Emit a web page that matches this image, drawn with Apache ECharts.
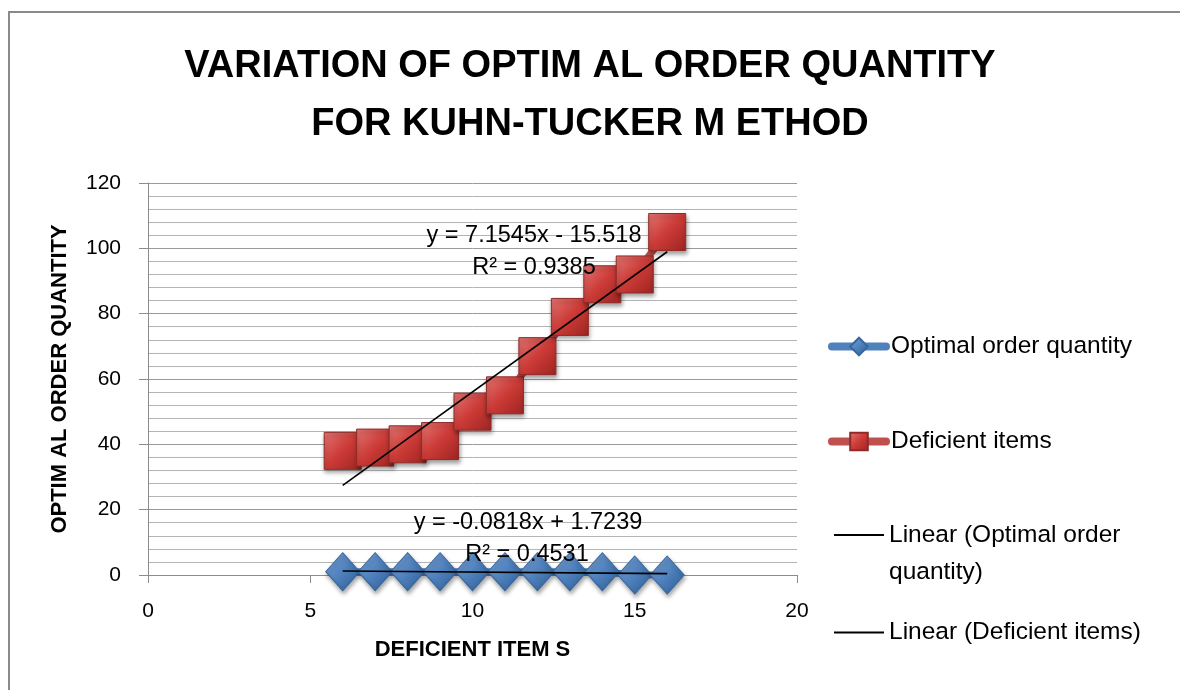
<!DOCTYPE html>
<html>
<head>
<meta charset="utf-8">
<title>Variation of optimal order quantity</title>
<script src="https://cdn.jsdelivr.net/npm/echarts@6/dist/echarts.min.js"></script>
<style>
  html, body { margin: 0; padding: 0; background: #fff; }
  #chart { width: 1180px; height: 690px; }
</style>
</head>
<body>
<div id="chart"></div>
<script>
const FONT = "'Liberation Sans', Arial, sans-serif";

// data
const deficientItems = [6, 7, 8, 9, 10, 11, 12, 13, 14, 15, 16];
const optimalQty = [1, 1, 1, 1, 1, 1, 1, 1, 1, 0, 0];
const deficientQty = [38, 39, 40, 41, 50, 55, 67, 79, 89, 92, 105];

const seriesNames = [
  "Optimal order quantity",
  "Deficient items",
  "Linear (Optimal order quantity)",
  "Linear (Deficient items)",
];

// trendline labels as printed on the chart
const eqOptimal = ["y = -0.0818x + 1.7239", "R² = 0.4531"];
const eqDeficient = ["y = 7.1545x - 15.518", "R² = 0.9385"];

function linFit(xs, ys) {
  const n = xs.length;
  const mx = xs.reduce((a, b) => a + b, 0) / n;
  const my = ys.reduce((a, b) => a + b, 0) / n;
  let sxy = 0, sxx = 0;
  for (let i = 0; i < n; i++) {
    sxy += (xs[i] - mx) * (ys[i] - my);
    sxx += (xs[i] - mx) * (xs[i] - mx);
  }
  const slope = sxy / sxx;
  return { slope, intercept: my - slope * mx };
}

function trendPoints(xs, ys) {
  const f = linFit(xs, ys);
  const x0 = Math.min(...xs), x1 = Math.max(...xs);
  return [[x0, f.intercept + f.slope * x0], [x1, f.intercept + f.slope * x1]];
}

const pairs = (xs, ys) => xs.map((x, i) => [x, ys[i]]);

const chart = echarts.init(document.getElementById("chart"));

const legendBase = {
  orient: "vertical",
  left: 828,
  padding: 0,
  itemWidth: 54,
  itemHeight: 22,
  selectedMode: false,
  textStyle: { fontFamily: FONT, fontSize: 24.5, lineHeight: 37, color: "#000" },
  lineStyle: { width: 8, cap: "round" },
};

const eqText = (txt, x, y) => ({
  type: "text",
  x, y, z: 100,
  style: {
    text: txt, font: "23.5px " + FONT, fill: "#000",
    align: "center", verticalAlign: "middle",
  },
});

chart.setOption({
  animation: false,
  backgroundColor: "#fff",
  textStyle: { fontFamily: FONT },
  title: {
    text: "VARIATION OF OPTIM AL ORDER QUANTITY\nFOR KUHN-TUCKER M ETHOD",
    left: "center",
    top: 33,
    textStyle: { fontFamily: FONT, fontSize: 38, fontWeight: "bold", lineHeight: 58, color: "#000" },
  },
  grid: { left: 148, right: 383, top: 183, bottom: 115 },
  xAxis: {
    type: "value",
    min: 0, max: 20, interval: 5,
    name: "DEFICIENT ITEM S",
    nameLocation: "middle",
    nameGap: 64,
    nameTextStyle: { fontFamily: FONT, fontSize: 22, fontWeight: "bold", color: "#000" },
    axisLine: { onZero: false, lineStyle: { color: "#8c8c8c", width: 1 } },
    axisTick: { show: true, length: 8, lineStyle: { color: "#8c8c8c" } },
    axisLabel: { fontSize: 21, color: "#000", margin: 26 },
    splitLine: { show: false },
  },
  yAxis: {
    type: "value",
    min: 0, max: 120, interval: 20,
    name: "OPTIM AL ORDER QUANTITY",
    nameLocation: "middle",
    nameGap: 77,
    nameTextStyle: { fontFamily: FONT, fontSize: 22, fontWeight: "bold", color: "#000" },
    axisLine: { show: true, lineStyle: { color: "#8c8c8c", width: 1 } },
    axisTick: { show: true, length: 9, lineStyle: { color: "#8c8c8c" } },
    axisLabel: { fontSize: 21, color: "#000", margin: 27 },
    splitLine: { show: true, lineStyle: { color: "#9a9a9a", width: 1 } },
    minorTick: { show: false, splitNumber: 5 },
    minorSplitLine: { show: true, lineStyle: { color: "#b4b4b4", width: 1 } },
  },
  legend: [
    { ...legendBase, top: 328, data: [seriesNames[0]] },
    { ...legendBase, top: 423, data: [seriesNames[1]] },
    {
      ...legendBase, top: 479.5, left: 834, itemWidth: 50, itemHeight: 2,
      data: [{ name: seriesNames[2], icon: "rect" }],
      formatter: () => "\nLinear (Optimal order\nquantity)",
    },
    {
      ...legendBase, top: 614, left: 834, itemWidth: 50, itemHeight: 2,
      data: [{ name: seriesNames[3], icon: "rect" }],
    },
  ],
  graphic: [
    {
      type: "rect", z: 0, silent: true,
      shape: { x: 9, y: 12, width: 1200, height: 700 },
      style: { fill: "none", stroke: "#8a8a8a", lineWidth: 2 },
    },
    eqText(eqDeficient[0], 534, 236),
    eqText(eqDeficient[1], 534, 268),
    eqText(eqOptimal[0], 528, 523),
    eqText(eqOptimal[1], 527, 555),
  ],
  series: [
    {
      name: seriesNames[0],
      type: "line",
      data: pairs(deficientItems, optimalQty),
      symbol: "diamond",
      symbolSize: [34, 38],
      lineStyle: { color: "#4f81bd", width: 7 },
      itemStyle: {
        color: new echarts.graphic.LinearGradient(0, 0, 1, 1, [
          { offset: 0, color: "#7ea6d8" },
          { offset: 0.5, color: "#4f81bd" },
          { offset: 1, color: "#2c5b92" },
        ]),
        borderColor: "#36679e",
        borderWidth: 1,
        shadowColor: "rgba(0,0,0,0.35)",
        shadowBlur: 4,
        shadowOffsetX: 1,
        shadowOffsetY: 3,
      },
      emphasis: { disabled: true },
    },
    {
      name: seriesNames[1],
      type: "line",
      data: pairs(deficientItems, deficientQty),
      symbol: "rect",
      symbolSize: 37,
      lineStyle: { color: "#c0504d", width: 7 },
      itemStyle: {
        color: new echarts.graphic.LinearGradient(0, 0, 1, 1, [
          { offset: 0, color: "#e27673" },
          { offset: 0.5, color: "#cc3a36" },
          { offset: 1, color: "#9c2522" },
        ]),
        borderColor: "#8e2b28",
        borderWidth: 1,
        shadowColor: "rgba(0,0,0,0.35)",
        shadowBlur: 4,
        shadowOffsetX: 1,
        shadowOffsetY: 3,
      },
      emphasis: { disabled: true },
    },
    {
      name: seriesNames[2],
      type: "line",
      data: trendPoints(deficientItems, optimalQty),
      symbol: "none",
      color: "#000",
      lineStyle: { color: "#000", width: 1.6 },
      z: 5,
      emphasis: { disabled: true },
    },
    {
      name: seriesNames[3],
      type: "line",
      data: trendPoints(deficientItems, deficientQty),
      symbol: "none",
      color: "#000",
      lineStyle: { color: "#000", width: 1.6 },
      z: 5,
      emphasis: { disabled: true },
    },
  ],
});
</script>
</body>
</html>
